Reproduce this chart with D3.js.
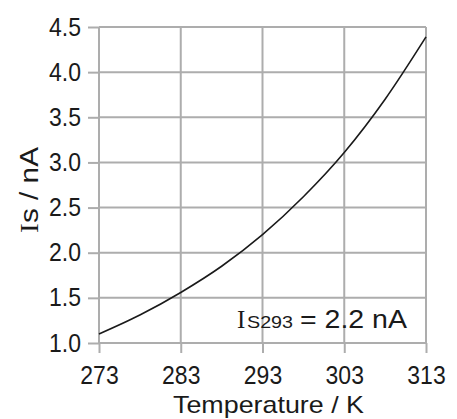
<!DOCTYPE html>
<html>
<head>
<meta charset="utf-8">
<script src="https://cdn.jsdelivr.net/npm/d3@7"></script>
<style>
  html, body { margin: 0; padding: 0; background: #fff; }
  svg { display: block; }
  text { font-family: "Liberation Sans", Arial, sans-serif; fill: #1a1a1a; }
</style>
</head>
<body>
<svg id="chart" width="457" height="419"></svg>
<script>
// Saturation current vs. temperature
const temperature = [273, 278, 283, 288, 293, 298, 303, 308, 313];
const current     = [1.10, 1.31, 1.56, 1.85, 2.20, 2.62, 3.11, 3.70, 4.39];

const xTicks = [273, 283, 293, 303, 313];
const yTicks = [1.0, 1.5, 2.0, 2.5, 3.0, 3.5, 4.0, 4.5];

const svg = d3.select("#chart");
const plot = { left: 99, right: 426, top: 27, bottom: 343 };

const x = d3.scaleLinear().domain([273, 313]).range([plot.left, plot.right]);
const y = d3.scaleLinear().domain([1.0, 4.5]).range([plot.bottom, plot.top]);

const gridColor = "#adadad";
const sansFont = '"Liberation Sans", Arial, sans-serif';
const serifFont = '"Liberation Serif", "Times New Roman", serif';

// grid lines
const grid = svg.append("g");
grid.selectAll("line.v").data(xTicks).join("line")
  .attr("x1", d => x(d)).attr("x2", d => x(d))
  .attr("y1", plot.top).attr("y2", plot.bottom)
  .attr("stroke", gridColor).attr("stroke-width", 2);
grid.selectAll("line.h").data(yTicks).join("line")
  .attr("y1", d => y(d)).attr("y2", d => y(d))
  .attr("x1", plot.left).attr("x2", plot.right)
  .attr("stroke", gridColor).attr("stroke-width", 2);

// axes
const yAxis = svg.append("g")
  .attr("transform", `translate(${plot.left},0)`)
  .call(d3.axisLeft(y).tickValues(yTicks).tickFormat(d3.format(".1f")).tickSize(11).tickPadding(7));
const xAxis = svg.append("g")
  .attr("transform", `translate(0,${plot.bottom})`)
  .call(d3.axisBottom(x).tickValues(xTicks).tickFormat(d3.format("d")).tickSize(10).tickPadding(11));

[yAxis, xAxis].forEach(g => {
  g.select(".domain").remove();
  g.selectAll(".tick line").attr("stroke", gridColor).attr("stroke-width", 2);
  g.selectAll(".tick text").attr("font-size", 23).attr("fill", "#141414")
    .style("font-family", sansFont);
});
yAxis.selectAll(".tick text").attr("transform", "scale(1,1.1)");
xAxis.selectAll(".tick text").attr("dy", "0.71em").attr("transform", "scale(1,1.1)");

// curve
const line = d3.line()
  .x((d, i) => x(temperature[i]))
  .y(d => y(d))
  .curve(d3.curveMonotoneX);
svg.append("path")
  .datum(current)
  .attr("d", line)
  .attr("fill", "none")
  .attr("stroke", "#1a1a1a")
  .attr("stroke-width", 1.6);

// annotation: I_S293 = 2.2 nA
svg.append("text").attr("x", 237).attr("y", 328)
  .attr("font-size", 25).style("font-family", serifFont).text("I");
svg.append("text").attr("x", 247).attr("y", 328)
  .attr("font-size", 17).attr("textLength", 46).attr("lengthAdjust", "spacingAndGlyphs")
  .text("S293");
svg.append("text").attr("x", 300).attr("y", 328)
  .attr("font-size", 25).attr("textLength", 107).attr("lengthAdjust", "spacingAndGlyphs")
  .text("= 2.2 nA");

// axis titles
svg.append("text")
  .attr("x", 173).attr("y", 413)
  .attr("font-size", 24)
  .attr("textLength", 191).attr("lengthAdjust", "spacingAndGlyphs")
  .text("Temperature / K");

const yTitle = svg.append("text")
  .attr("transform", "translate(38,233) rotate(-90)")
  .attr("font-size", 26)
  .attr("textLength", 86).attr("lengthAdjust", "spacingAndGlyphs");
yTitle.append("tspan").text("I").style("font-family", serifFont);
yTitle.append("tspan").text("s / nA");
</script>
</body>
</html>
